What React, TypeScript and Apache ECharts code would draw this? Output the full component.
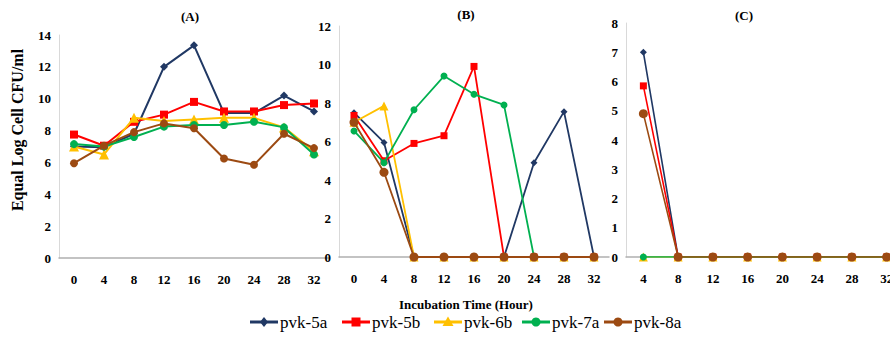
import React, { useEffect, useRef } from "react";
import * as echarts from "echarts";

const hoursAB = ["0", "4", "8", "12", "16", "20", "24", "28", "32"];
const hoursC = ["4", "8", "12", "16", "20", "24", "28", "32"];
const seriesNames = ["pvk-5a", "pvk-5b", "pvk-6b", "pvk-7a", "pvk-8a"];
const panelTitles = ["(A)", "(B)", "(C)"];

// Panel A
const a5a = [7.0, 6.95, 7.8, 12.0, 13.35, 9.1, 9.1, 10.2, 9.2];
const a5b = [7.75, 7.05, 8.55, 9.0, 9.8, 9.2, 9.2, 9.6, 9.7];
const a6b = [7.0, 6.5, 8.8, 8.6, 8.7, 8.8, 8.8, 8.2, 6.7];
const a7a = [7.15, 7.0, 7.6, 8.25, 8.35, 8.35, 8.55, 8.2, 6.5];
const a8a = [5.95, 7.05, 7.9, 8.45, 8.15, 6.25, 5.85, 7.8, 6.9];

// Panel B
const b5a = [7.5, 5.95, 0, 0, 0, 0, 4.9, 7.55, 0];
const b5b = [7.35, 5.0, 5.9, 6.3, 9.9, 0, 0, 0, 0];
const b6b = [7.0, 7.85, 0, 0, 0, 0, 0, 0, 0];
const b7a = [6.55, 4.9, 7.65, 9.4, 8.45, 7.9, 0, 0, 0];
const b8a = [7.0, 4.4, 0, 0, 0, 0, 0, 0, 0];

// Panel C
const c5a = [7.0, 0, 0, 0, 0, 0, 0, 0];
const c5b = [5.85, 0, 0, 0, 0, 0, 0, 0];
const c6b = [0, 0, 0, 0, 0, 0, 0, 0];
const c7a = [0, 0, 0, 0, 0, 0, 0, 0];
const c8a = [4.9, 0, 0, 0, 0, 0, 0, 0];

const colors = ["#203864", "#FF0000", "#FFC000", "#00B050", "#9C4A12"];
const symbols = ["diamond", "rect", "triangle", "circle", "circle"];
const FONT = "Liberation Serif";

function legendSymbol(kind: string, cx: number, cy: number, color: string): any {
  const s = 5;
  if (kind === "diamond")
    return { type: "polygon", shape: { points: [[cx, cy - s], [cx + s * 0.8, cy], [cx, cy + s], [cx - s * 0.8, cy]] }, style: { fill: color } };
  if (kind === "rect")
    return { type: "rect", shape: { x: cx - 4.5, y: cy - 4.5, width: 9, height: 9 }, style: { fill: color } };
  if (kind === "triangle")
    return { type: "polygon", shape: { points: [[cx, cy - 5.5], [cx + 5.5, cy + 4], [cx - 5.5, cy + 4]] }, style: { fill: color } };
  return { type: "circle", shape: { cx, cy, r: 4.5 }, style: { fill: color } };
}

export default function App() {
  const ref = useRef<HTMLDivElement>(null);
  useEffect(() => {
    if (!ref.current) return;
    const chart = echarts.init(ref.current, undefined, { renderer: "svg" });

    const panels = [
      { data: [a5a, a5b, a6b, a7a, a8a], cats: hoursAB, max: 14, interval: 2, lw: 2, sym: 8 },
      { data: [b5a, b5b, b6b, b7a, b8a], cats: hoursAB, max: 12, interval: 2, lw: 1.8, sym: 7 },
      { data: [c5a, c5b, c6b, c7a, c8a], cats: hoursC, max: 8, interval: 1, lw: 1.6, sym: 7 },
    ];
    const grids = [
      { left: 59, top: 35, width: 270, height: 223 },
      { left: 339, top: 26, width: 270, height: 231 },
      { left: 626, top: 23, width: 278, height: 234 },
    ];

    const axisLabelStyle = {
      fontFamily: FONT,
      fontWeight: "bold" as const,
      fontSize: 13,
      color: "#000",
    };

    const xAxis = panels.map((p, i) => ({
      type: "category" as const,
      gridIndex: i,
      data: p.cats,
      boundaryGap: true,
      axisLine: { show: true, lineStyle: { color: "#B0B0B0", width: 1.5 } },
      axisTick: { show: false },
      axisLabel: { ...axisLabelStyle, margin: 15 },
    }));
    const yAxis = panels.map((p, i) => ({
      type: "value" as const,
      gridIndex: i,
      min: 0,
      max: p.max,
      interval: p.interval,
      axisLine: { show: true, lineStyle: { color: "#D9D9D9", width: 1 } },
      axisTick: { show: false },
      splitLine: { show: false },
      axisLabel: { ...axisLabelStyle, margin: 8 },
    }));

    const series: any[] = [];
    panels.forEach((p, pi) => {
      p.data.forEach((vals, si) => {
        let size = symbols[si] === "triangle" ? p.sym + 2 : p.sym;
        if (si === 4 && pi > 0) size = p.sym + 2;
        series.push({
          type: "line",
          name: seriesNames[si],
          xAxisIndex: pi,
          yAxisIndex: pi,
          data: vals,
          symbol: symbols[si],
          symbolSize: size,
          color: colors[si],
          lineStyle: { color: colors[si], width: p.lw },
          itemStyle: { color: colors[si] },
          z: 2 + si,
        });
      });
    });

    const legendX = [250, 342, 434, 522, 604];
    const legendY = 322;
    const legendGraphics: any[] = [];
    seriesNames.forEach((n, i) => {
      const x0 = legendX[i];
      legendGraphics.push({
        type: "line",
        shape: { x1: x0, y1: legendY, x2: x0 + 28, y2: legendY },
        style: { stroke: colors[i], lineWidth: 3 },
      });
      legendGraphics.push(legendSymbol(symbols[i], x0 + 14, legendY, colors[i]));
      legendGraphics.push({
        type: "text",
        x: x0 + 30,
        y: legendY,
        style: {
          text: n,
          font: `17px "${FONT}"`,
          fill: "#000",
          textAlign: "left",
          textVerticalAlign: "middle",
        },
      });
    });

    chart.setOption({
      animation: false,
      backgroundColor: "#fff",
      textStyle: { fontFamily: FONT },
      grid: grids,
      xAxis,
      yAxis,
      series,
      graphic: [
        ...panelTitles.map((t, i) => ({
          type: "text",
          x: [190, 466, 744][i],
          y: [16, 14, 15][i],
          style: {
            text: t,
            font: `bold 13px "${FONT}"`,
            fill: "#000",
            textAlign: "center",
            textVerticalAlign: "middle",
          },
        })),
        {
          type: "text",
          x: 17,
          y: 130,
          rotation: Math.PI / 2,
          style: {
            text: "Equal Log Cell CFU/ml",
            font: `bold 16px "${FONT}"`,
            fill: "#000",
            textAlign: "center",
            textVerticalAlign: "middle",
          },
        },
        {
          type: "text",
          x: 466,
          y: 304,
          style: {
            text: "Incubation Time (Hour)",
            font: `bold 13px "${FONT}"`,
            fill: "#000",
            textAlign: "center",
            textVerticalAlign: "middle",
          },
        },
        ...legendGraphics,
      ],
    });
    return () => chart.dispose();
  }, []);
  return (
    <div
      style={{
        position: "fixed",
        left: 0,
        top: 0,
        width: 890,
        height: 341,
        overflow: "hidden",
        background: "#fff",
      }}
    >
      <div ref={ref} style={{ width: 906, height: 341 }} />
    </div>
  );
}
